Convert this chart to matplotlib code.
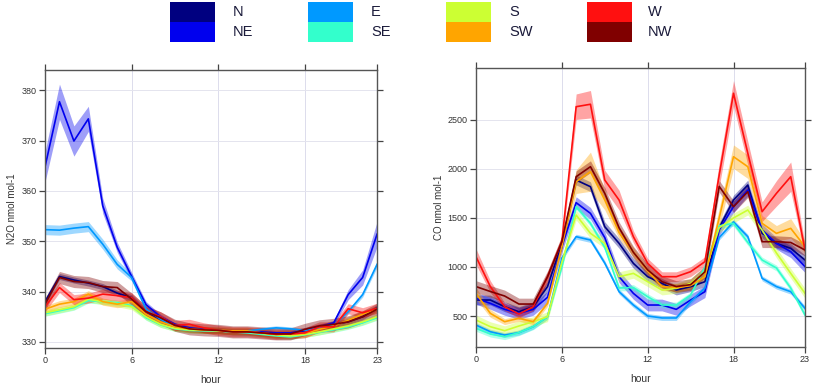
import matplotlib
matplotlib.use("Agg")
import matplotlib.pyplot as plt
from matplotlib.patches import Rectangle

plt.rcParams["font.family"] = ["Liberation Sans", "DejaVu Sans"]

hours = list(range(24))
directions = ["N", "NE", "E", "SE", "S", "SW", "W", "NW"]
colors = ["#000080", "#0000EE", "#0099FF", "#33FFCC",
          "#CCFF33", "#FFA500", "#FF1010", "#800000"]

# N2O hourly means (nmol mol-1) by wind sector
n2o_N = [338.0, 343.0, 342.3, 341.7, 341.0, 339.7, 338.8, 336.0, 334.5, 333.2, 332.6, 332.4,
         332.3, 332.0, 332.0, 331.8, 331.6, 331.6, 332.3, 333.0, 333.5, 334.0, 335.0, 336.8]
n2o_NE = [364.8, 377.7, 369.9, 374.3, 357.0, 348.8, 343.0, 337.4, 335.0, 333.5, 332.8, 332.5,
          332.3, 332.0, 332.0, 332.0, 331.8, 331.8, 332.3, 333.0, 333.8, 339.4, 342.8, 351.4]
n2o_E = [352.3, 352.2, 352.6, 352.9, 349.4, 345.4, 342.8, 336.5, 334.5, 333.0, 332.5, 332.3,
         332.2, 332.0, 332.2, 332.5, 332.8, 332.6, 332.3, 332.8, 333.3, 336.0, 339.4, 345.4]
n2o_SE = [335.6, 336.2, 336.8, 338.2, 338.0, 337.8, 337.2, 334.8, 333.4, 332.6, 332.3, 332.2,
          332.2, 332.0, 331.8, 331.5, 331.2, 331.0, 331.4, 331.9, 332.4, 333.0, 333.8, 334.8]
n2o_S = [335.8, 336.4, 337.0, 338.5, 338.0, 337.6, 337.0, 335.0, 333.5, 332.7, 332.4, 332.3,
         332.2, 332.0, 332.0, 331.7, 331.4, 331.2, 331.5, 332.0, 332.6, 333.2, 334.0, 335.0]
n2o_SW = [336.5, 337.5, 338.0, 339.5, 338.0, 337.5, 338.0, 335.5, 334.0, 333.0, 332.6, 332.4,
          332.3, 332.2, 332.2, 331.8, 331.5, 331.6, 331.7, 332.5, 333.2, 334.3, 335.5, 336.5]
n2o_W = [337.0, 340.8, 338.4, 338.7, 339.5, 339.2, 338.8, 336.0, 335.0, 333.3, 333.5, 332.8,
         332.3, 332.0, 332.0, 331.8, 331.5, 331.6, 331.8, 333.0, 333.0, 336.6, 335.8, 336.7]
n2o_NW = [337.5, 342.8, 342.0, 341.8, 341.0, 340.8, 338.5, 336.0, 334.8, 333.3, 332.6, 332.4,
          332.3, 332.0, 332.0, 331.8, 331.6, 331.6, 332.5, 333.2, 333.5, 334.0, 335.0, 336.5]

# N2O confidence half-widths
n2o_err_NE = [3.0, 3.5, 3.0, 2.5, 1.5, 1.0, 0.8, 0.6, 0.5, 0.3, 0.3, 0.3,
              0.3, 0.3, 0.3, 0.3, 0.3, 0.3, 0.3, 0.4, 0.5, 1.0, 1.5, 2.5]
n2o_err_E = [1.0, 1.0, 1.0, 1.0, 1.0, 0.9, 0.7, 0.5, 0.4, 0.3, 0.3, 0.3,
             0.3, 0.3, 0.3, 0.4, 0.4, 0.4, 0.3, 0.3, 0.3, 0.4, 0.5, 0.6]
n2o_err_N = 0.6
n2o_err_SE = 0.5
n2o_err_S = 0.6
n2o_err_SW = 0.7
n2o_err_W = 1.0
n2o_err_NW = 1.2

# CO hourly means (nmol mol-1) by wind sector
co_N = [663, 663, 595, 544, 595, 800, 1241, 1887, 1819, 1411, 1241, 1037,
        901, 833, 765, 799, 850, 1400, 1683, 1836, 1343, 1241, 1190, 1071]
co_NE = [680, 629, 568, 527, 568, 691, 1207, 1656, 1547, 1300, 901, 731,
         612, 612, 568, 663, 748, 1380, 1615, 1785, 1377, 1241, 1156, 1003]
co_E = [408, 340, 306, 330, 391, 493, 1092, 1309, 1275, 1040, 748, 612,
        500, 480, 480, 646, 785, 1300, 1460, 1309, 884, 800, 748, 578]
co_SE = [374, 316, 289, 330, 391, 493, 1000, 1615, 1445, 1200, 786, 790,
         697, 612, 612, 714, 1000, 1420, 1445, 1250, 1071, 990, 785, 510]
co_S = [459, 391, 350, 398, 442, 493, 1050, 1530, 1343, 1241, 901, 935,
        850, 765, 782, 833, 950, 1400, 1500, 1581, 1377, 1143, 935, 731]
co_SW = [732, 527, 442, 476, 442, 629, 1207, 1870, 1972, 1683, 1350, 1150,
         960, 800, 790, 810, 900, 1500, 2125, 2023, 1445, 1343, 1394, 1207]
co_W = [1105, 800, 595, 520, 595, 900, 1258, 2635, 2660, 1887, 1683, 1309,
        1037, 901, 901, 952, 1054, 1938, 2772, 2160, 1564, 1751, 1921, 1173]
co_NW = [800, 750, 704, 622, 622, 900, 1258, 1921, 2023, 1751, 1400, 1150,
         970, 850, 800, 820, 950, 1822, 1615, 1768, 1258, 1258, 1250, 1173]

# CO confidence half-widths
co_err_W = [80, 60, 40, 40, 40, 50, 60, 130, 140, 100, 100, 60,
            50, 50, 50, 50, 50, 120, 130, 120, 100, 130, 150, 60]
co_err_SW = [60, 40, 30, 30, 30, 30, 40, 120, 200, 100, 60, 50,
             40, 40, 40, 40, 40, 100, 120, 120, 80, 80, 100, 60]
co_err_N = 50
co_err_NE = 60
co_err_E = 25
co_err_SE = 30
co_err_S = 50
co_err_NW = 60

n2o_series = [n2o_N, n2o_NE, n2o_E, n2o_SE, n2o_S, n2o_SW, n2o_W, n2o_NW]
n2o_errs = [n2o_err_N, n2o_err_NE, n2o_err_E, n2o_err_SE,
            n2o_err_S, n2o_err_SW, n2o_err_W, n2o_err_NW]
co_series = [co_N, co_NE, co_E, co_SE, co_S, co_SW, co_W, co_NW]
co_errs = [co_err_N, co_err_NE, co_err_E, co_err_SE,
           co_err_S, co_err_SW, co_err_W, co_err_NW]

xticks = [0, 6, 12, 18, 23]


def draw_panel(ax, series, errs, ylim, yticks, ylabel):
    for vals, err, col in zip(series, errs, colors):
        if isinstance(err, list):
            lo = [v - e for v, e in zip(vals, err)]
            hi = [v + e for v, e in zip(vals, err)]
        else:
            lo = [v - err for v in vals]
            hi = [v + err for v in vals]
        ax.fill_between(hours, lo, hi, color=col, alpha=0.38, lw=0)
        ax.plot(hours, vals, color=col, lw=1.2)
    ax.set_xlim(0, 23)
    ax.set_ylim(*ylim)
    ax.set_xticks(xticks)
    ax.set_yticks(yticks)
    for x in [6, 12, 18]:
        ax.axvline(x, color="#dcdcec", lw=0.7, zorder=0)
    for y in yticks:
        ax.axhline(y, color="#e4e4ee", lw=0.7, zorder=0)
    ax.tick_params(direction="out", length=4, width=0.9, colors="#444444",
                   labelsize=6.5, labelcolor="#333333",
                   top=True, right=True, pad=2)
    for sp in ax.spines.values():
        sp.set_color("#555555")
        sp.set_linewidth(1.0)
    ax.set_xlabel("hour", fontsize=7.5, color="#333333", labelpad=7)
    ax.set_ylabel(ylabel, fontsize=7, color="#333333", labelpad=3)


fig = plt.figure(figsize=(8.13, 3.9), dpi=100)
ax1 = fig.add_axes([0.0554, 0.1077, 0.4084, 0.7128])
ax2 = fig.add_axes([0.5855, 0.1103, 0.4047, 0.7154])

draw_panel(ax1, n2o_series, n2o_errs, (328.8, 384.0),
           [330, 340, 350, 360, 370, 380], "N2O nmol mol-1")
draw_panel(ax2, co_series, co_errs, (184, 3030),
           [500, 1000, 1500, 2000, 2500], "CO nmol mol-1")

# legend across the top: two stacked keys per column
box_x = [170, 308, 446, 587]
label_x = [233, 371, 509, 648]
W, H = 813.0, 390.0
for i in range(4):
    for j in range(2):
        k = 2 * i + j
        y0 = 22 + 20 * j
        fig.patches.append(Rectangle((box_x[i] / W, 1 - y0 / H), 45 / W, 19.5 / H,
                                     transform=fig.transFigure, facecolor=colors[k],
                                     edgecolor="none"))
        fig.text(label_x[i] / W, 1 - (y0 - 10) / H, directions[k],
                 fontsize=10.5, color="#1a1a3a", va="center", ha="left")

fig.savefig("out.png", dpi=100)
